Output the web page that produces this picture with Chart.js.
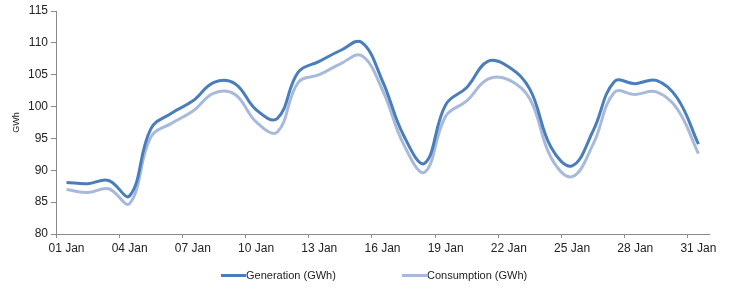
<!DOCTYPE html>
<html>
<head>
<meta charset="utf-8">
<script src="https://cdn.jsdelivr.net/npm/chart.js@4/dist/chart.umd.min.js"></script>
<style>
  html, body { margin: 0; padding: 0; background: #fff; }
  #wrap { position: relative; width: 731px; height: 289px; }
  #legend { position: absolute; left: 221px; top: 268px; font: 11px "Liberation Sans", Arial, sans-serif; color: #222; white-space: nowrap; }
  .item { position: absolute; top: 0; height: 14px; line-height: 14px; }
  .sw { position: absolute; top: 6px; width: 25px; height: 3px; }
  .lbl { position: absolute; left: 25px; top: 0; }
</style>
</head>
<body>
<div id="wrap">
  <canvas id="c" width="731" height="289"></canvas>
  <div id="legend"></div>
</div>
<script>
const days = [];
for (let d = 1; d <= 31; d++) days.push((d < 10 ? '0' : '') + d + ' Jan');
const tickLabels = ['01 Jan','04 Jan','07 Jan','10 Jan','13 Jan','16 Jan','19 Jan','22 Jan','25 Jan','28 Jan','31 Jan'];
const yTicks = [80, 85, 90, 95, 100, 105, 110, 115];
const generation = [88.1, 87.9, 88.4, 86.0, 96.5, 99.0, 100.9, 103.8, 103.6, 99.5, 98.1, 105.4, 107.1, 108.8, 110.1, 104.0, 95.5, 91.1, 100.3, 103.0, 107.1, 106.2, 102.7, 93.6, 90.7, 96.2, 103.9, 103.6, 104.1, 101.3, 94.1];
const consumption = [87.0, 86.5, 87.1, 84.8, 95.2, 97.4, 99.3, 102.1, 101.9, 97.6, 96.0, 103.8, 105.0, 106.7, 108.0, 102.6, 94.1, 89.7, 98.5, 100.9, 104.3, 104.2, 101.2, 92.0, 89.0, 94.1, 102.2, 101.9, 102.3, 99.6, 92.6];
const seriesNames = ['Generation (GWh)', 'Consumption (GWh)'];
const colors = ['#4a7ebb', '#a7badb'];

const toPts = arr => arr.map((v, i) => ({ x: i + 0.5, y: v }));
const FONT = "'Liberation Sans', Arial, sans-serif";
const axisColor = '#8a8a8a';

new Chart(document.getElementById('c'), {
  type: 'line',
  data: {
    datasets: [
      { label: seriesNames[0], data: toPts(generation), borderColor: colors[0], backgroundColor: colors[0], borderWidth: 3, pointRadius: 0, tension: 0.4, fill: false, order: 1 },
      { label: seriesNames[1], data: toPts(consumption), borderColor: colors[1], backgroundColor: colors[1], borderWidth: 3, pointRadius: 0, tension: 0.4, fill: false, order: 2 }
    ]
  },
  options: {
    responsive: false,
    animation: false,
    devicePixelRatio: 1,
    layout: { padding: { top: 11, right: 22, bottom: 30, left: 0 } },
    plugins: { legend: { display: false }, tooltip: { enabled: false } },
    scales: {
      x: {
        type: 'linear',
        min: 0,
        max: days.length,
        afterBuildTicks: s => { s.ticks = days.map((d, i) => tickLabels.includes(d) ? { value: i } : null).filter(Boolean); },
        afterFit: s => { s.height = 25; },
        ticks: {
          callback: v => days[v],
          labelOffset: 10.5,
          padding: 3,
          maxRotation: 0,
          autoSkip: false,
          color: '#222',
          font: { family: FONT, size: 12 }
        },
        grid: { drawOnChartArea: false, drawTicks: true, tickLength: 4, color: axisColor },
        border: { display: true, color: axisColor, width: 1 }
      },
      y: {
        min: yTicks[0],
        max: yTicks[yTicks.length - 1],
        afterBuildTicks: s => { s.ticks = yTicks.map(v => ({ value: v })); },
        afterFit: s => { s.width = 56; },
        ticks: { stepSize: 5, padding: 3, color: '#222', font: { family: FONT, size: 12 } },
        grid: { drawOnChartArea: false, drawTicks: true, tickLength: 5, color: axisColor },
        border: { display: true, color: axisColor, width: 1 },
        title: { display: true, text: 'GWh', color: '#222', font: { family: FONT, size: 9 }, padding: { top: 11, bottom: 0 } }
      }
    }
  }
});

// HTML legend
const lg = document.getElementById('legend');
const offsets = [0, 181];
seriesNames.forEach((n, k) => {
  const it = document.createElement('div');
  it.className = 'item';
  it.style.left = offsets[k] + 'px';
  it.innerHTML = '<span class="sw" style="background:' + colors[k] + '"></span><span class="lbl">' + n + '</span>';
  lg.appendChild(it);
});
</script>
</body>
</html>
